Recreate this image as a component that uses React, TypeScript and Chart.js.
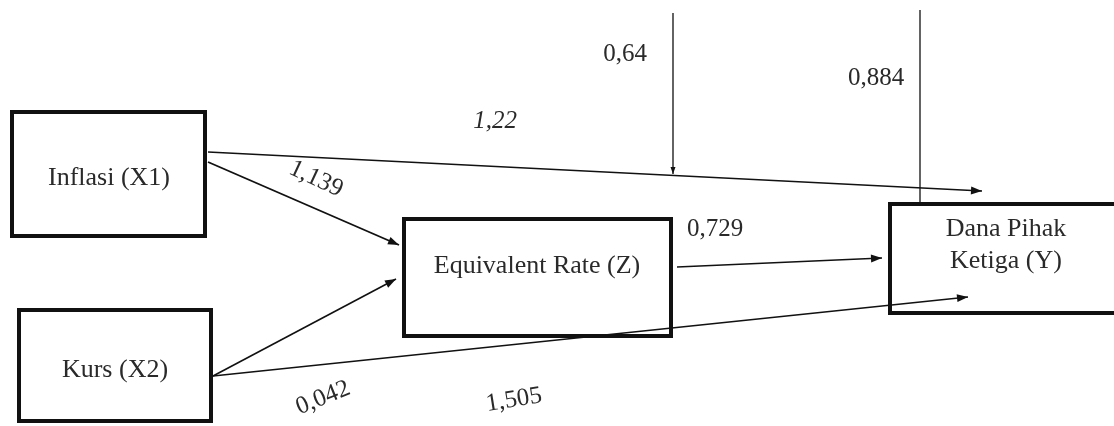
import React, { useEffect, useRef } from "react";
import { Chart, registerables } from "chart.js";

Chart.register(...registerables);

// Diagram space (data units match the 1114 x 426 picture)
const X_MAX = 1114;
const Y_MAX = 426;

// Constructs (nodes)
const nodeLabels: string[][] = [
  ["Inflasi (X1)"],
  ["Kurs (X2)"],
  ["Equivalent Rate (Z)"],
  ["Dana Pihak", "Ketiga (Y)"],
];
const nodeLeft = [10, 17, 402, 888];
const nodeTop = [110, 308, 217, 202];
const nodeRight = [207, 213, 673, 1118];
const nodeBottom = [238, 423, 338, 315];
const nodeTextX = [109, 115, 537, 1006];
const nodeTextY = [178, 370, 266, 229];

// Paths (edges)
const edgeFromX = [208, 208, 213, 213, 677, 673, 920];
const edgeFromY = [152, 162, 376, 376, 267, 13, 10];
const edgeToX = [982, 399, 396, 968, 882, 673, 920];
const edgeToY = [191, 245, 279, 297, 258, 174, 202];
const edgeArrow = [true, true, true, true, true, true, false];
const edgeWidth = [1.5, 1.9, 1.6, 1.6, 1.4, 1.3, 1.3];

// Coefficients
const coefText = ["1,22", "1,139", "0,042", "1,505", "0,729", "0,64", "0,884"];
const coefX = [495, 316, 323, 514, 715, 625, 876];
const coefY = [121, 179, 398, 400, 229, 54, 78];
const coefAngle = [0, 25, -22, -9, 0, 0, 0];
const coefItalic = [true, false, false, false, false, false, false];

const FONT = '"Liberation Serif", "Times New Roman", serif';

const diagramPlugin = {
  id: "pathDiagram",
  afterDatasetsDraw(chart: any) {
    const ctx: CanvasRenderingContext2D = chart.ctx;
    const xs = chart.scales.x;
    const ys = chart.scales.y;
    const px = (v: number) => xs.getPixelForValue(v);
    const py = (v: number) => ys.getPixelForValue(v);
    ctx.save();

    // arrowheads
    ctx.fillStyle = "#111";
    for (let i = 0; i < edgeFromX.length; i++) {
      if (!edgeArrow[i]) continue;
      const x0 = px(edgeFromX[i]);
      const y0 = py(edgeFromY[i]);
      const x1 = px(edgeToX[i]);
      const y1 = py(edgeToY[i]);
      const a = Math.atan2(y1 - y0, x1 - x0);
      const len = i === 5 ? 7 : 11;
      const hw = i === 5 ? 2.5 : 4;
      ctx.beginPath();
      ctx.moveTo(x1, y1);
      ctx.lineTo(x1 - len * Math.cos(a) + hw * Math.sin(a), y1 - len * Math.sin(a) - hw * Math.cos(a));
      ctx.lineTo(x1 - len * Math.cos(a) - hw * Math.sin(a), y1 - len * Math.sin(a) + hw * Math.cos(a));
      ctx.closePath();
      ctx.fill();
    }

    // boxes
    ctx.strokeStyle = "#111";
    ctx.lineWidth = 4;
    for (let i = 0; i < nodeLabels.length; i++) {
      const l = px(nodeLeft[i]);
      const r = px(nodeRight[i]);
      const t = py(nodeTop[i]);
      const b = py(nodeBottom[i]);
      ctx.strokeRect(l + 2, t + 2, r - l - 4, b - t - 4);
    }

    // node labels
    ctx.fillStyle = "#2a2a2a";
    ctx.font = `26px ${FONT}`;
    ctx.textAlign = "center";
    ctx.textBaseline = "middle";
    for (let i = 0; i < nodeLabels.length; i++) {
      nodeLabels[i].forEach((line, k) => {
        ctx.fillText(line, px(nodeTextX[i]), py(nodeTextY[i]) + k * 32);
      });
    }

    // coefficients
    for (let i = 0; i < coefText.length; i++) {
      ctx.save();
      ctx.translate(px(coefX[i]), py(coefY[i]));
      ctx.rotate((coefAngle[i] * Math.PI) / 180);
      ctx.font = `${coefItalic[i] ? "italic " : ""}25px ${FONT}`;
      ctx.fillText(coefText[i], 0, 0);
      ctx.restore();
    }
    ctx.restore();
  },
};

export default function App() {
  const ref = useRef<HTMLCanvasElement | null>(null);

  useEffect(() => {
    if (!ref.current) return;
    const datasets = edgeFromX.map((_, i) => ({
      data: [
        { x: edgeFromX[i], y: edgeFromY[i] },
        { x: edgeToX[i], y: edgeToY[i] },
      ],
      showLine: true,
      borderColor: "#111",
      borderWidth: edgeWidth[i],
      pointRadius: 0,
      clip: false as any,
    }));
    const chart = new Chart(ref.current, {
      type: "scatter",
      data: { datasets },
      options: {
        animation: false,
        responsive: false,
        maintainAspectRatio: false,
        layout: { padding: 0 },
        plugins: { legend: { display: false }, tooltip: { enabled: false } },
        scales: {
          x: { type: "linear", min: 0, max: X_MAX, display: false },
          y: { type: "linear", min: 0, max: Y_MAX, reverse: true, display: false },
        },
      },
      plugins: [diagramPlugin],
    });
    return () => chart.destroy();
  }, []);

  return (
    <div style={{ position: "absolute", left: 0, top: 0, width: X_MAX, height: Y_MAX, background: "#fff" }}>
      <canvas ref={ref} width={X_MAX} height={Y_MAX} style={{ display: "block" }} />
    </div>
  );
}
